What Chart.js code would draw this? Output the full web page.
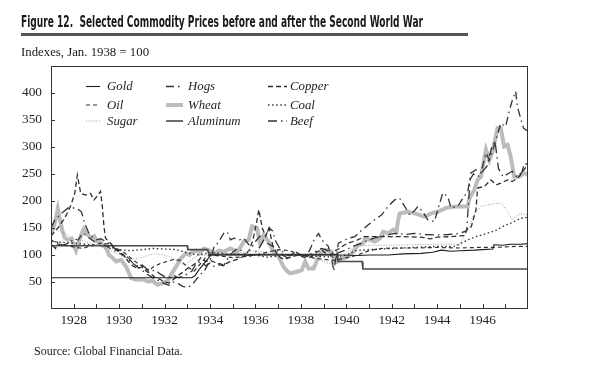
<!DOCTYPE html>
<html><head><meta charset="utf-8">
<script src="https://cdn.jsdelivr.net/npm/chart.js@4.4.1/dist/chart.umd.min.js"></script>
<style>
html,body{margin:0;padding:0;background:#fff;width:590px;height:390px;overflow:hidden;}
#wrap{position:relative;width:590px;height:390px;}
canvas{position:absolute;left:0;top:0;}
.t{position:absolute;white-space:nowrap;color:#1a1a1a;}
#title{left:21px;top:14px;font-family:"Liberation Sans Narrow","DejaVu Sans Condensed",sans-serif;font-weight:bold;font-size:16px;line-height:16px;transform-origin:0 0;}
#rule{position:absolute;left:21px;top:33px;width:447px;height:3px;background:#555;}
#sub{left:21px;top:45px;font-family:"Liberation Serif","Times New Roman",serif;font-size:12.8px;line-height:14px;}
#src{left:34px;top:345px;font-family:"Liberation Serif","Times New Roman",serif;font-size:12px;line-height:13px;}
</style></head>
<body><div id="wrap">
<canvas id="c" width="590" height="390"></canvas>
<div class="t" id="title">Figure 12.&nbsp; Selected Commodity Prices before and after the Second World War</div>
<div id="rule"></div>
<div class="t" id="sub">Indexes, Jan. 1938 = 100</div>
<div class="t" id="src">Source: Global Financial Data.</div>
</div>
<script>
// ---- data (year, index value) ----
const xLabelYears = [1928,1930,1932,1934,1936,1938,1940,1942,1944,1946];
const yTickValues = [50,100,150,200,250,300,350,400];

const gold = [[1927,58],[1933.2,58],[1933.35,62],[1933.5,72],[1933.7,82],[1933.85,90],[1934.05,100],[1939.8,100],[1940.5,99],[1941.0,100],[1941.84,100],[1942.5,102],[1943.3,103],[1943.8,105],[1944.18,109],[1944.6,107],[1945.0,108],[1945.64,109],[1946.0,110],[1946.45,111],[1946.5,119],[1946.9,118],[1947.2,120],[1947.68,120],[1948,121]];
const aluminum = [[1927,117],[1933.0,117],[1933.02,110],[1933.9,110],[1933.95,101],[1939.6,101],[1939.63,88],[1940.7,88],[1940.73,74],[1948,74]];
const wheat = [[1927.0,140],[1927.1,150],[1927.2,165],[1927.3,186],[1927.4,165],[1927.5,145],[1927.6,132],[1927.75,128],[1927.9,130],[1928.0,118],[1928.1,108],[1928.2,122],[1928.35,140],[1928.45,148],[1928.6,138],[1928.75,132],[1928.9,135],[1929.0,126],[1929.15,125],[1929.3,118],[1929.43,112],[1929.55,100],[1929.65,97],[1929.87,88],[1930.09,91],[1930.31,78],[1930.45,65],[1930.53,57],[1930.75,54],[1931.04,55],[1931.25,51],[1931.47,52],[1931.69,45],[1931.91,48],[1932.13,52],[1932.28,63],[1932.5,78],[1932.72,94],[1932.94,103],[1933.1,100],[1933.23,106],[1933.4,108],[1933.55,104],[1933.74,112],[1934.0,108],[1934.18,103],[1934.4,108],[1934.6,106],[1934.9,112],[1935.2,106],[1935.35,115],[1935.49,125],[1935.7,128],[1935.85,153],[1936.07,150],[1936.2,122],[1936.37,137],[1936.58,125],[1936.8,106],[1937.02,97],[1937.24,78],[1937.4,70],[1937.53,66],[1937.82,69],[1938.04,72],[1938.19,88],[1938.34,75],[1938.56,75],[1938.78,97],[1938.92,106],[1939.14,109],[1939.36,106],[1939.5,85],[1939.65,91],[1939.87,94],[1940.09,97],[1940.31,106],[1940.53,119],[1940.75,122],[1940.82,131],[1941.04,128],[1941.26,125],[1941.48,131],[1941.62,143],[1941.84,140],[1942.06,147],[1942.2,143],[1942.3,168],[1942.35,177],[1942.72,180],[1943.01,177],[1943.45,171],[1943.74,177],[1944.03,180],[1944.4,187],[1944.83,190],[1945.35,190],[1945.42,205],[1945.64,221],[1945.78,239],[1945.93,245],[1946.15,295],[1946.3,276],[1946.44,292],[1946.66,335],[1946.8,335],[1946.95,301],[1947.1,304],[1947.24,282],[1947.39,245],[1947.61,245],[1947.83,252],[1948,248]];
const copper = [[1927.0,135],[1927.3,150],[1927.55,165],[1927.75,180],[1927.9,195],[1928.05,215],[1928.16,248],[1928.31,214],[1928.53,211],[1928.74,214],[1928.89,202],[1929.05,210],[1929.18,218],[1929.26,190],[1929.33,153],[1929.4,131],[1929.55,125],[1929.7,118],[1929.85,110],[1930.0,105],[1930.2,100],[1930.4,88],[1930.6,80],[1930.8,75],[1931.0,78],[1931.2,70],[1931.4,65],[1931.6,58],[1931.8,55],[1932.0,50],[1932.2,48],[1932.4,55],[1932.6,62],[1932.8,68],[1933.0,75],[1933.2,80],[1933.4,85],[1933.6,95],[1933.8,88],[1934.0,90],[1934.3,85],[1934.6,82],[1934.9,88],[1935.2,92],[1935.5,98],[1935.75,110],[1935.9,130],[1936.05,160],[1936.15,184],[1936.3,150],[1936.45,135],[1936.6,150],[1936.75,120],[1936.9,105],[1937.1,95],[1937.3,92],[1937.5,95],[1937.7,98],[1937.9,100],[1938.1,96],[1938.3,95],[1938.5,98],[1938.7,105],[1938.9,110],[1939.1,103],[1939.3,100],[1939.5,108],[1939.7,112],[1939.9,118],[1940.1,122],[1940.3,125],[1940.5,128],[1940.8,134],[1941.5,134],[1942.5,134],[1943.3,133],[1943.7,130],[1944.0,133],[1944.6,134],[1945.2,136],[1945.35,150],[1945.5,152],[1945.71,184],[1945.78,224],[1946.08,227],[1946.37,239],[1946.6,230],[1946.8,233],[1947.1,239],[1947.3,236],[1947.53,242],[1947.7,250],[1947.83,267],[1948,270]];
const hogs = [[1927.0,120],[1927.2,112],[1927.3,125],[1927.5,118],[1927.8,122],[1928.0,130],[1928.2,128],[1928.4,140],[1928.6,135],[1928.8,128],[1929.0,122],[1929.2,120],[1929.4,118],[1929.6,112],[1929.8,108],[1930.0,104],[1930.2,98],[1930.4,92],[1930.6,85],[1930.8,78],[1931.0,72],[1931.2,65],[1931.4,60],[1931.6,55],[1931.8,52],[1932.0,47],[1932.2,44],[1932.4,50],[1932.6,47],[1932.8,42],[1933.0,40],[1933.2,44],[1933.4,55],[1933.55,63],[1933.75,70],[1934.0,90],[1934.2,118],[1934.35,122],[1934.6,140],[1934.76,143],[1934.9,128],[1935.05,131],[1935.3,128],[1935.49,131],[1935.7,120],[1935.85,115],[1936.0,125],[1936.2,135],[1936.4,125],[1936.6,120],[1936.8,115],[1937.0,105],[1937.2,100],[1937.4,95],[1937.6,100],[1937.8,105],[1938.0,100],[1938.2,95],[1938.4,110],[1938.6,130],[1938.78,140],[1938.92,128],[1939.21,116],[1939.36,91],[1939.45,70],[1939.65,122],[1940.09,131],[1940.38,134],[1940.6,143],[1940.97,156],[1941.33,168],[1941.55,174],[1941.84,190],[1942.13,202],[1942.35,205],[1942.57,190],[1942.79,174],[1943.0,182],[1943.16,190],[1943.37,180],[1943.59,165],[1943.88,162],[1944.03,184],[1944.25,215],[1944.47,208],[1944.61,187],[1944.91,190],[1945.13,205],[1945.35,218],[1945.49,252],[1945.71,258],[1945.93,252],[1946.15,289],[1946.3,276],[1946.59,313],[1946.8,344],[1947.02,338],[1947.17,366],[1947.32,388],[1947.46,403],[1947.53,375],[1947.61,363],[1947.8,335],[1948,329]];
const beef = [[1927.0,150],[1927.17,165],[1927.46,177],[1927.75,187],[1928.12,187],[1928.34,180],[1928.48,159],[1928.7,137],[1928.99,128],[1929.2,130],[1929.4,125],[1929.6,120],[1929.8,112],[1930.0,108],[1930.2,100],[1930.4,95],[1930.6,85],[1930.8,80],[1931.0,82],[1931.2,75],[1931.4,70],[1931.6,72],[1931.8,65],[1932.0,60],[1932.2,58],[1932.4,62],[1932.6,58],[1932.8,60],[1933.0,65],[1933.2,70],[1933.4,85],[1933.6,88],[1933.8,80],[1934.0,85],[1934.2,78],[1934.4,82],[1934.6,80],[1934.8,95],[1935.0,105],[1935.2,112],[1935.4,108],[1935.6,100],[1935.8,98],[1936.0,105],[1936.2,115],[1936.4,130],[1936.6,150],[1936.75,145],[1936.9,125],[1937.1,110],[1937.3,102],[1937.5,98],[1937.7,104],[1937.9,100],[1938.1,98],[1938.3,100],[1938.5,103],[1938.7,108],[1938.9,112],[1939.1,110],[1939.3,104],[1939.5,100],[1939.7,105],[1939.9,108],[1940.1,112],[1940.4,118],[1940.7,122],[1941.0,128],[1941.3,132],[1941.6,135],[1941.9,138],[1942.2,140],[1942.6,138],[1943.0,140],[1943.5,138],[1944.0,137],[1944.5,138],[1945.0,140],[1945.3,145],[1945.45,240],[1945.6,250],[1945.8,245],[1946.0,255],[1946.2,265],[1946.4,300],[1946.55,310],[1946.7,260],[1946.9,245],[1947.1,250],[1947.3,255],[1947.5,245],[1947.7,252],[1947.9,262],[1948,260]];
const oil = [[1927.0,128],[1927.3,120],[1927.6,118],[1928.0,115],[1928.4,112],[1928.8,118],[1929.2,122],[1929.6,120],[1929.9,112],[1930.2,105],[1930.5,95],[1930.8,85],[1931.0,80],[1931.3,70],[1931.5,78],[1931.8,84],[1932.1,88],[1932.4,92],[1932.7,90],[1933.0,78],[1933.3,70],[1933.5,80],[1933.8,95],[1934.0,100],[1934.5,98],[1935.0,95],[1935.5,97],[1936.0,100],[1936.5,105],[1937.0,110],[1937.5,108],[1938.0,100],[1938.5,95],[1939.0,92],[1939.5,90],[1940.0,95],[1940.5,100],[1941.0,108],[1941.5,112],[1942.0,113],[1943.0,113],[1944.0,114],[1945.0,113],[1945.8,114],[1946.5,114],[1947.0,115],[1947.5,116],[1948,116]];
const coal = [[1927.0,125],[1928.0,122],[1929.0,118],[1929.5,116],[1930.0,110],[1930.5,108],[1931.0,110],[1931.5,112],[1932.0,111],[1932.5,110],[1933.0,104],[1933.5,100],[1934.0,104],[1935.0,102],[1936.0,100],[1936.5,96],[1937.0,98],[1937.5,100],[1938.0,100],[1938.5,98],[1939.0,97],[1939.5,96],[1940.0,100],[1940.4,108],[1941.0,110],[1942.0,112],[1943.0,114],[1944.0,116],[1944.8,116],[1945.35,128],[1945.7,134],[1946.2,140],[1946.6,146],[1946.95,154],[1947.3,160],[1947.68,168],[1948,170]];
const sugar = [[1927.0,150],[1927.3,145],[1927.6,140],[1928.0,130],[1928.5,125],[1929.0,118],[1929.5,110],[1930.0,100],[1930.3,95],[1930.6,93],[1931.0,95],[1931.3,100],[1931.6,102],[1932.0,100],[1932.3,95],[1932.6,88],[1932.9,80],[1933.2,92],[1933.5,100],[1934.0,98],[1934.5,100],[1935.0,103],[1935.5,105],[1936.0,108],[1936.5,104],[1937.0,100],[1937.5,98],[1938.0,100],[1938.5,95],[1939.0,88],[1939.4,82],[1939.7,85],[1940.0,105],[1940.4,116],[1941.0,118],[1942.0,118],[1943.0,119],[1944.0,120],[1945.0,120],[1945.42,153],[1945.56,171],[1945.93,190],[1946.5,195],[1946.8,196],[1946.95,190],[1947.32,165],[1947.46,171],[1947.68,177],[1948,174]];

const pts = a => a.map(p => ({x: p[0], y: p[1]}));
function ds(label, arr, color, width, dash, order) {
  return {label, data: pts(arr), borderColor: color, borderWidth: width, borderDash: dash,
    pointRadius: 0, tension: 0, fill: false, order: order || 0};
}
const datasets = [
  ds('Gold', gold, '#1e1e1e', 1.1, []),
  ds('Oil', oil, '#333', 1.2, [4,3]),
  ds('Sugar', sugar, '#9a9a9a', 1, [1,1.6]),
  ds('Hogs', hogs, '#333', 1.3, [8,4,1.5,4]),
  ds('Wheat', wheat, '#bcbcbc', 4, [], 10),
  ds('Aluminum', aluminum, '#4a4a4a', 1.6, []),
  ds('Copper', copper, '#2e2e2e', 1.3, [5,3]),
  ds('Coal', coal, '#333', 1.4, [1.5,2.6]),
  ds('Beef', beef, '#333', 1.3, [9,4,1.5,4])
];
const legendCols = [
  {sx: 86, ex: 100, tx: 107, items: ['Gold','Oil','Sugar']},
  {sx: 166, ex: 183, tx: 188, items: ['Hogs','Wheat','Aluminum']},
  {sx: 268, ex: 287, tx: 290, items: ['Copper','Coal','Beef']}
];
const legendRowsY = [86.5, 105, 121];

const decor = {
  id: 'decor',
  afterDraw(chart) {
    const ctx = chart.ctx, a = chart.chartArea;
    const xs = chart.scales.x, ys = chart.scales.y;
    ctx.save();
    ctx.strokeStyle = '#333'; ctx.lineWidth = 1; ctx.setLineDash([]);
    ctx.strokeRect(Math.round(a.left)+0.5, Math.round(a.top)+0.5, Math.round(a.right-a.left)-1, Math.round(a.bottom-a.top)-1);
    ctx.beginPath();
    xs.ticks.forEach(t => {
      if (t.value <= xs.min || t.value >= xs.max) return;
      const px = Math.round(xs.getPixelForValue(t.value)) + 0.5;
      ctx.moveTo(px, a.bottom); ctx.lineTo(px, a.bottom - 5);
    });
    yTickValues.forEach(v => {
      const py = Math.round(ys.getPixelForValue(v)) + 0.5;
      ctx.moveTo(a.left, py); ctx.lineTo(a.left + 4, py);
    });
    ctx.stroke();
    // legend
    ctx.font = 'italic 12.8px "Liberation Serif", "Times New Roman", serif';
    ctx.fillStyle = '#1e1e1e'; ctx.textBaseline = 'middle'; ctx.textAlign = 'left';
    legendCols.forEach(col => {
      col.items.forEach((name, i) => {
        const d = chart.data.datasets.find(s => s.label === name);
        const y = legendRowsY[i];
        ctx.beginPath();
        ctx.strokeStyle = d.borderColor; ctx.lineWidth = d.borderWidth;
        ctx.setLineDash(d.borderDash || []);
        ctx.moveTo(col.sx, y); ctx.lineTo(col.ex, y); ctx.stroke();
        ctx.setLineDash([]);
        ctx.fillText(name, col.tx, y + 0.5);
      });
    });
    ctx.restore();
  }
};

new Chart(document.getElementById('c'), {
  type: 'line',
  data: {datasets},
  options: {
    responsive: false, animation: false, devicePixelRatio: 1,
    layout: {padding: {left: 0, right: 62, top: 66, bottom: 57}},
    plugins: {legend: {display: false}, tooltip: {enabled: false}},
    scales: {
      x: {type: 'linear', min: 1927, max: 1948,
        grid: {display: false, drawTicks: false}, border: {display: false},
        ticks: {stepSize: 1, autoSkip: false, maxRotation: 0, padding: 4, color: '#1e1e1e',
          font: {family: '"Liberation Serif", "Times New Roman", serif', size: 13.3},
          callback: v => xLabelYears.includes(v) ? String(v) : ''},
        afterFit: s => { s.height = 24; }
      },
      y: {min: 0, max: 450,
        grid: {display: false, drawTicks: false}, border: {display: false},
        ticks: {stepSize: 50, padding: 9, color: '#1e1e1e',
          font: {family: '"Liberation Serif", "Times New Roman", serif', size: 13.3},
          callback: v => yTickValues.includes(v) ? String(v) : ''},
        afterFit: s => { s.width = 51; }
      }
    }
  },
  plugins: [decor]
});

// fit title to reference width
const tt = document.getElementById('title');
const w = tt.getBoundingClientRect().width;
tt.style.transform = 'scaleX(' + (402 / w) + ')';
</script>
</body></html>
